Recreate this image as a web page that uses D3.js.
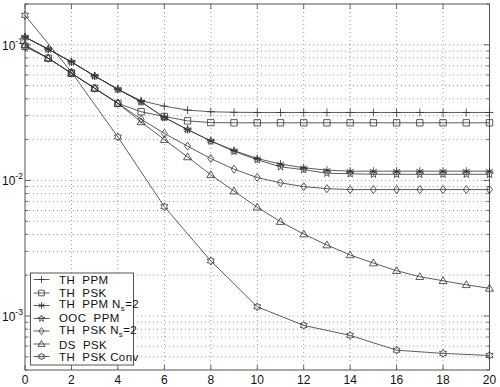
<!DOCTYPE html>
<html>
<head>
<meta charset="utf-8">
<script src="https://cdn.jsdelivr.net/npm/d3@7"></script>
<style>
  body { margin: 0; background: #fff; }
  text { font-family: "Liberation Sans", Arial, sans-serif; fill: #111; white-space: pre; }
</style>
</head>
<body>
<script>
var W = 500, H = 387;

// x values (integer steps and even steps)
var xAll = d3.range(0, 21);
var xEven = d3.range(0, 21, 2);

var thPpm   = [0.114, 0.0929, 0.0748, 0.0589, 0.047, 0.0387, 0.0353, 0.033, 0.0321, 0.0318, 0.0317,
               0.0317, 0.0317, 0.0317, 0.0317, 0.0317, 0.0317, 0.0317, 0.0317, 0.0317, 0.0317];
var thPsk   = [0.0975, 0.0797, 0.0617, 0.0478, 0.037, 0.0321, 0.0296, 0.0275, 0.0267, 0.0266, 0.0266,
               0.0266, 0.0266, 0.0266, 0.0266, 0.0266, 0.0266, 0.0266, 0.0266, 0.0266, 0.0266];
var thPpmNs = [0.114, 0.0929, 0.0748, 0.0589, 0.047, 0.038, 0.0291, 0.0237, 0.0196, 0.0166, 0.0145,
               0.0132, 0.0124, 0.0119, 0.0117, 0.0117, 0.0117, 0.0117, 0.0117, 0.0117, 0.0117];
var oocPpm  = [0.114, 0.0929, 0.0748, 0.0589, 0.047, 0.038, 0.0291, 0.0237, 0.0195, 0.0164, 0.0142,
               0.0126, 0.012, 0.0113, 0.0112, 0.0111, 0.0111, 0.0111, 0.0111, 0.0111, 0.0111];
var thPskNs = [0.0975, 0.0797, 0.0617, 0.0478, 0.037, 0.0283, 0.0222, 0.0179, 0.0145, 0.0121, 0.0105,
               0.0096, 0.009, 0.0087, 0.00856, 0.00856, 0.00856, 0.00856, 0.00856, 0.00856, 0.00856];
var dsPsk   = [0.1, 0.0797, 0.0617, 0.0478, 0.037, 0.027, 0.02, 0.0149, 0.011, 0.00834, 0.00634,
               0.00497, 0.00402, 0.00334, 0.00282, 0.00246, 0.00216, 0.00195, 0.00182, 0.0017, 0.0016];
var thPskConv = [0.165, 0.063, 0.0209, 0.0064, 0.00255, 0.00117, 0.000853, 0.00072, 0.00056, 0.00053, 0.000512];

var seriesNames = ['TH  PPM', 'TH  PSK', 'TH  PPM N', 'OOC  PPM', 'TH  PSK N', 'DS  PSK', 'TH  PSK Conv'];
var seriesSub   = [null, null, 's', null, 's', null, null];
var seriesTail  = ['', '', '=2', '', '=2', '', ''];
var seriesMarks = ['plus', 'square', 'asterisk', 'pentagram', 'diamond', 'triangle', 'hexagram'];

var series = [
  { xs: xAll, ys: thPpm },
  { xs: xAll, ys: thPsk },
  { xs: xAll, ys: thPpmNs },
  { xs: xAll, ys: oocPpm },
  { xs: xAll, ys: thPskNs },
  { xs: xAll, ys: dsPsk },
  { xs: xEven, ys: thPskConv }
];

var xTicks = d3.range(0, 21, 2);
var yDecades = [1e-3, 1e-2, 1e-1];
var yDecadeLabels = ['-3', '-2', '-1'];

var pLeft = 25, pRight = 489.5, pTop = 4, pBottom = 370;
var x = d3.scaleLinear().domain([0, 20]).range([pLeft, pRight]);
var y = d3.scaleLog().domain([4e-4, 0.2]).range([pBottom, pTop]);

var svg = d3.select('body').append('svg')
  .attr('width', W)
  .attr('height', H);

var ink = '#333';

// minor log values for the grid
var minor = [];
[1e-4, 1e-3, 1e-2, 1e-1].forEach(function(d) {
  for (var k = 1; k <= 9; k++) {
    var v = d * k;
    if (v >= 4e-4 * 0.999 && v <= 0.2 * 1.001) minor.push(v);
  }
});

var grid = svg.append('g')
  .attr('stroke', '#888')
  .attr('stroke-width', 0.8)
  .attr('stroke-dasharray', '1,3');

grid.selectAll('.gx').data(xTicks.slice(1, -1)).enter().append('line')
  .attr('x1', function(d) { return x(d); })
  .attr('x2', function(d) { return x(d); })
  .attr('y1', pTop).attr('y2', pBottom);

grid.selectAll('.gy').data(minor.filter(function(v) { return y(v) > pTop + 1 && y(v) < pBottom - 1; })).enter().append('line')
  .attr('x1', pLeft).attr('x2', pRight)
  .attr('y1', function(d) { return y(d); })
  .attr('y2', function(d) { return y(d); });

// ticks inside the box, on all four sides
var ticks = svg.append('g').attr('stroke', '#444').attr('stroke-width', 0.8);
xTicks.forEach(function(d) {
  ticks.append('line').attr('x1', x(d)).attr('x2', x(d)).attr('y1', pBottom).attr('y2', pBottom - 5);
  ticks.append('line').attr('x1', x(d)).attr('x2', x(d)).attr('y1', pTop).attr('y2', pTop + 5);
});
minor.forEach(function(v) {
  var isMajor = yDecades.indexOf(v) >= 0;
  var len = isMajor ? 6 : 3;
  ticks.append('line').attr('x1', pLeft).attr('x2', pLeft + len).attr('y1', y(v)).attr('y2', y(v));
  ticks.append('line').attr('x1', pRight).attr('x2', pRight - len).attr('y1', y(v)).attr('y2', y(v));
});

svg.append('rect')
  .attr('x', pLeft).attr('y', pTop)
  .attr('width', pRight - pLeft).attr('height', pBottom - pTop)
  .attr('fill', 'none').attr('stroke', '#555').attr('stroke-width', 1);

// tick labels
svg.selectAll('.xl').data(xTicks).enter().append('text')
  .attr('x', function(d) { return x(d); })
  .attr('y', 384)
  .attr('text-anchor', 'middle')
  .attr('font-size', 12)
  .text(function(d) { return d; });

yDecades.forEach(function(v, i) {
  var t = svg.append('text')
    .attr('x', 2)
    .attr('y', y(v) + 5)
    .attr('font-size', 12);
  t.append('tspan').text('10');
  t.append('tspan').attr('dy', -6).attr('font-size', 8.5).text(yDecadeLabels[i]);
});

// marker shapes
function markerPath(type, s) {
  var p = d3.path(), i, a, r;
  if (type === 'plus') {
    p.moveTo(-s, 0); p.lineTo(s, 0); p.moveTo(0, -s); p.lineTo(0, s);
  } else if (type === 'square') {
    var h = s * 0.8;
    p.rect(-h, -h, 2 * h, 2 * h);
  } else if (type === 'asterisk') {
    for (i = 0; i < 3; i++) {
      a = Math.PI / 2 + i * Math.PI / 3;
      p.moveTo(Math.cos(a) * s, Math.sin(a) * s);
      p.lineTo(-Math.cos(a) * s, -Math.sin(a) * s);
    }
    p.moveTo(-s, 0); p.lineTo(s, 0);
  } else if (type === 'pentagram') {
    for (i = 0; i < 10; i++) {
      a = -Math.PI / 2 + i * Math.PI / 5;
      r = i % 2 === 0 ? s : s * 0.42;
      if (i === 0) p.moveTo(Math.cos(a) * r, Math.sin(a) * r);
      else p.lineTo(Math.cos(a) * r, Math.sin(a) * r);
    }
    p.closePath();
  } else if (type === 'diamond') {
    p.moveTo(0, -s); p.lineTo(s * 0.75, 0); p.lineTo(0, s); p.lineTo(-s * 0.75, 0); p.closePath();
  } else if (type === 'triangle') {
    p.moveTo(0, -s); p.lineTo(s, s * 0.7); p.lineTo(-s, s * 0.7); p.closePath();
  } else if (type === 'hexagram') {
    for (i = 0; i < 12; i++) {
      a = -Math.PI / 2 + i * Math.PI / 6;
      r = i % 2 === 0 ? s : s * 0.58;
      if (i === 0) p.moveTo(Math.cos(a) * r, Math.sin(a) * r);
      else p.lineTo(Math.cos(a) * r, Math.sin(a) * r);
    }
    p.closePath();
  }
  return p.toString();
}

var line = d3.line()
  .x(function(d) { return x(d[0]); })
  .y(function(d) { return y(d[1]); });

var plot = svg.append('g');

series.forEach(function(s, k) {
  var pts = s.xs.map(function(xv, i) { return [xv, s.ys[i]]; });
  plot.append('path')
    .attr('d', line(pts))
    .attr('fill', 'none')
    .attr('stroke', ink)
    .attr('stroke-width', 0.8);
  plot.selectAll('.m' + k).data(pts).enter().append('path')
    .attr('transform', function(d) { return 'translate(' + x(d[0]) + ',' + y(d[1]) + ')'; })
    .attr('d', markerPath(seriesMarks[k], 4))
    .attr('fill', 'none')
    .attr('stroke', ink)
    .attr('stroke-width', 0.8);
});

// legend
var lg = svg.append('g');
lg.append('rect')
  .attr('x', 30.5).attr('y', 273)
  .attr('width', 103).attr('height', 92)
  .attr('fill', '#fff').attr('stroke', '#555').attr('stroke-width', 1);

var rowY = [279.5, 293, 305.5, 318.5, 331, 344, 356.5];
var textY = [284, 296.5, 307.5, 322, 334, 348.5, 361];

seriesNames.forEach(function(name, k) {
  var ry = rowY[k];
  lg.append('line')
    .attr('x1', 33.5).attr('x2', 49.5).attr('y1', ry).attr('y2', ry)
    .attr('stroke', ink).attr('stroke-width', 0.8);
  lg.append('path')
    .attr('transform', 'translate(41.5,' + ry + ')')
    .attr('d', markerPath(seriesMarks[k], 3.5))
    .attr('fill', 'none').attr('stroke', ink).attr('stroke-width', 0.8);
  var t = lg.append('text')
    .attr('x', 59).attr('y', textY[k])
    .attr('font-size', 11.5)
    .attr('letter-spacing', 0.4);
  t.append('tspan').text(name);
  if (seriesSub[k]) {
    t.append('tspan').attr('dy', 3).attr('font-size', 8).text(seriesSub[k]);
    t.append('tspan').attr('dy', -3).text(seriesTail[k]);
  }
});
</script>
</body>
</html>
